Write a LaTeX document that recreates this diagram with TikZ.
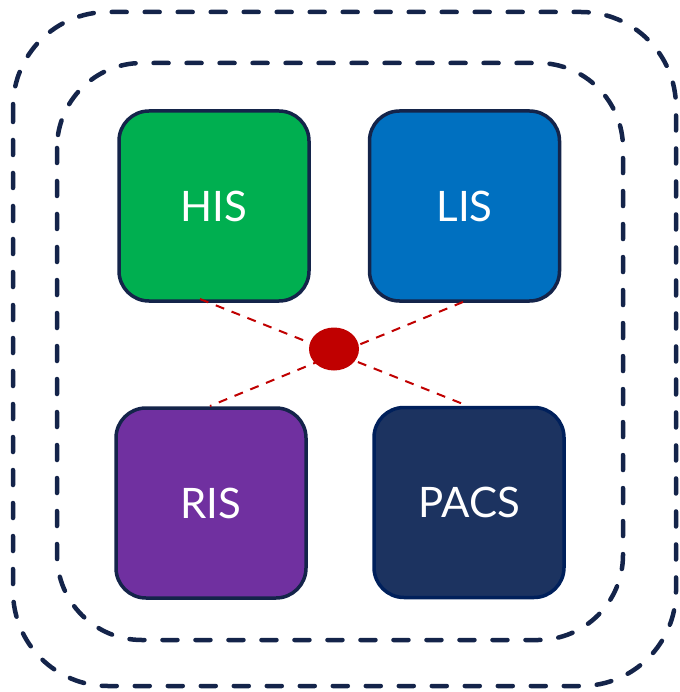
\documentclass[tikz,border=0pt]{standalone}
\usepackage{fontspec}
\setmainfont{Lato}
\usetikzlibrary{shapes.geometric}
\definecolor{navy}{HTML}{14244A}
\definecolor{hisg}{HTML}{00AF50}
\definecolor{lisb}{HTML}{0070C0}
\definecolor{risp}{HTML}{7030A0}
\definecolor{pacsf}{HTML}{1C3360}
\definecolor{pacsb}{HTML}{00205B}
\definecolor{hubred}{HTML}{C00000}
\begin{document}
\begin{tikzpicture}[x=1pt,y=-1pt,
  sysbox/.style={draw=navy,line width=3.5pt,rounded corners=30pt,minimum width=190pt,minimum height=190pt,
    text=white,font=\fontsize{42}{46}\selectfont,inner sep=0pt,text depth=-3pt},
  ring/.style={draw=navy,line width=4.5pt,line cap=round,dash pattern=on 15pt off 18pt},
  link/.style={draw=hubred,line width=2pt,dash pattern=on 9pt off 8pt}]
\useasboundingbox (0,0) rectangle (679,692);
\draw[ring,rounded corners=95pt] (13,12) rectangle (676,686);
\draw[ring,rounded corners=85pt] (57,63) rectangle (623,640);
\node[sysbox,fill=hisg] (his) at (214,206) {HIS};
\node[sysbox,fill=lisb] (lis) at (464.5,206) {LIS};
\node[sysbox,fill=risp] (ris) at (211,503) {RIS};
\node[sysbox,fill=pacsf,draw=pacsb] (pacs) at (469,502.5) {PACS};
\coordinate (a) at (200,299);
\coordinate (b) at (468,406);
\coordinate (c) at (463,302);
\coordinate (d) at (210,406);
\draw[link] (a) -- (b);
\draw[link] (c) -- (d);
\node[ellipse,fill=hubred,minimum width=50pt,minimum height=43pt,inner sep=0pt] (hub) at (334,349) {};
\end{tikzpicture}
\end{document}
